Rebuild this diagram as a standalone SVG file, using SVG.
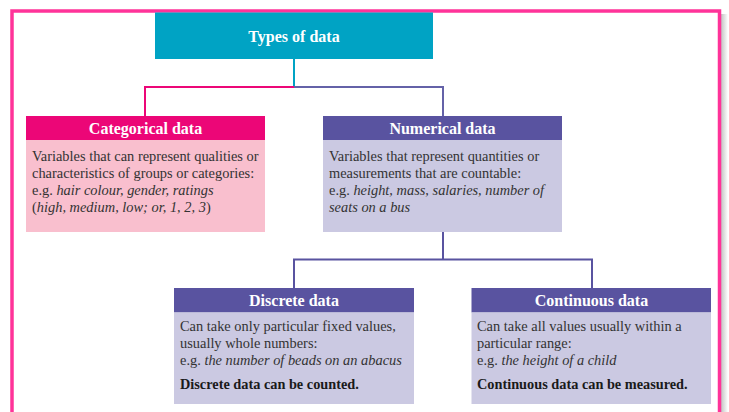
<svg xmlns="http://www.w3.org/2000/svg" width="729" height="412" viewBox="0 0 729 412">
  <defs>
    <linearGradient id="edgeShade" x1="0" y1="0" x2="1" y2="0">
      <stop offset="0" stop-color="#9a9a9a"/>
      <stop offset="1" stop-color="#ffffff"/>
    </linearGradient>
  </defs>
  <style>
    .frame { fill: none; stroke: #ff3399; stroke-width: 3.5; }
    .head { font-family: "Liberation Serif", "Times New Roman", serif; font-weight: bold; font-size: 16px; fill: #ffffff; text-anchor: middle; }
    .body { font-family: "Liberation Serif", "Times New Roman", serif; font-size: 14.4px; fill: #333333; }
    .body .it { font-style: italic; }
    .note { font-family: "Liberation Serif", "Times New Roman", serif; font-weight: bold; font-size: 14.3px; fill: #1a1a1a; }
    .link { fill: none; stroke-width: 2; }
    .cat-head { fill: #ec0677; }
    .cat-body { fill: #f9bfce; }
    .num-head { fill: #5953a0; }
    .num-body { fill: #cbc9e2; }
  </style>

  <rect x="0" y="0" width="729" height="412" fill="#ffffff"/>
  <!-- page frame with soft shading on the right edge -->
  <rect x="721" y="14" width="7" height="398" fill="url(#edgeShade)" opacity="0.6"/>
  <rect x="12" y="11" width="707.5" height="410" class="frame"/>

  <!-- connectors -->
  <g id="connectors">
    <line x1="294" y1="59" x2="294" y2="87" class="link" stroke="#00a3c4"/>
    <polyline points="294,87 145,87 145,116" class="link" stroke="#ec0677"/>
    <polyline points="294,87 443,87 443,116" class="link" stroke="#6462a8"/>
    <line x1="443" y1="232" x2="443" y2="259.5" class="link" stroke="#5953a0"/>
    <polyline points="294,288 294,259.5 592,259.5 592,288" class="link" stroke="#5953a0"/>
  </g>

  <!-- root -->
  <g id="types-of-data">
    <rect x="155" y="12.5" width="278" height="46.5" fill="#00a3c4"/>
    <text x="294" y="41.5" class="head">Types of data</text>
  </g>

  <g id="categorical-data">
    <rect x="26" y="116" width="239" height="24" class="cat-head"/>
    <rect x="26" y="140" width="239" height="92" class="cat-body"/>
    <text x="145.5" y="133.5" class="head">Categorical data</text>
    <text class="body">
      <tspan x="32" y="160.5">Variables that can represent qualities or</tspan>
      <tspan x="32" y="177.5">characteristics of groups or categories:</tspan>
      <tspan x="32" y="194.5">e.g. <tspan class="it">hair colour, gender, ratings</tspan></tspan>
      <tspan x="32" y="211.5">(<tspan class="it">high, medium, low; or, 1, 2, 3</tspan>)</tspan>
    </text>
  </g>

  <g id="numerical-data">
    <rect x="323" y="116" width="239" height="24" class="num-head"/>
    <rect x="323" y="140" width="239" height="92" class="num-body"/>
    <text x="442.5" y="133.5" class="head">Numerical data</text>
    <text class="body">
      <tspan x="329" y="160.5">Variables that represent quantities or</tspan>
      <tspan x="329" y="177.5">measurements that are countable:</tspan>
      <tspan x="329" y="194.5">e.g. <tspan class="it">height, mass, salaries, number of</tspan></tspan>
      <tspan x="329" y="211.5" class="it">seats on a bus</tspan>
    </text>
  </g>

  <g id="discrete-data">
    <rect x="174" y="288" width="240" height="24.5" class="num-head"/>
    <rect x="174" y="312.5" width="240" height="91.5" class="num-body"/>
    <text x="294" y="305.5" class="head">Discrete data</text>
    <text class="body">
      <tspan x="180" y="331">Can take only particular fixed values,</tspan>
      <tspan x="180" y="348">usually whole numbers:</tspan>
      <tspan x="180" y="365">e.g. <tspan class="it">the number of beads on an abacus</tspan></tspan>
    </text>
    <text x="180" y="389" class="note">Discrete data can be counted.</text>
  </g>

  <g id="continuous-data">
    <rect x="471.5" y="288" width="239.5" height="24.5" class="num-head"/>
    <rect x="471.5" y="312.5" width="239.5" height="91.5" class="num-body"/>
    <text x="591.5" y="305.5" class="head">Continuous data</text>
    <text class="body">
      <tspan x="477" y="331">Can take all values usually within a</tspan>
      <tspan x="477" y="348">particular range:</tspan>
      <tspan x="477" y="365">e.g. <tspan class="it">the height of a child</tspan></tspan>
    </text>
    <text x="477" y="389" class="note">Continuous data can be measured.</text>
  </g>
</svg>
